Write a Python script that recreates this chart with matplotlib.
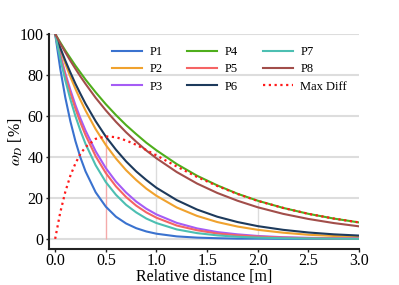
import matplotlib
matplotlib.use("Agg")
import matplotlib.pyplot as plt

plt.rcParams['font.family'] = ['Liberation Serif', 'DejaVu Serif']
plt.rcParams['mathtext.fontset'] = 'stix'

x = [0, 0.05, 0.1, 0.15, 0.2, 0.25, 0.3, 0.4, 0.5, 0.6, 0.7, 0.8, 0.9, 1.0,
     1.2, 1.4, 1.6, 1.8, 2.0, 2.25, 2.5, 2.75, 3.0]

p1 = [100, 83.1, 69.0, 57.4, 47.7, 39.6, 32.9, 22.7, 15.7, 10.8, 7.5, 5.2, 3.6, 2.5,
      1.2, 0.6, 0.3, 0.1, 0.1, 0.0, 0.0, 0.0, 0.0]
p2 = [100, 92.5, 85.5, 79.1, 73.2, 67.7, 62.6, 53.5, 45.8, 39.2, 33.5, 28.7, 24.5, 21.0,
      15.3, 11.2, 8.2, 6.0, 4.4, 3.0, 2.0, 1.4, 0.9]
p3 = [100, 89.9, 80.8, 72.7, 65.3, 58.7, 52.8, 42.7, 34.5, 27.9, 22.6, 18.2, 14.7, 11.9,
      7.8, 5.1, 3.3, 2.2, 1.4, 0.8, 0.5, 0.3, 0.2]
p4 = [100, 95.9, 91.9, 88.2, 84.5, 81.1, 77.7, 71.5, 65.7, 60.4, 55.5, 51.1, 46.9, 43.2,
      36.5, 30.8, 26.1, 22.0, 18.6, 15.1, 12.2, 9.9, 8.0]
p5 = [100, 89.3, 79.7, 71.1, 63.5, 56.7, 50.6, 40.3, 32.1, 25.6, 20.4, 16.2, 12.9, 10.3,
      6.5, 4.2, 2.6, 1.7, 1.1, 0.6, 0.3, 0.2, 0.1]
p6 = [100, 93.3, 87.0, 81.2, 75.7, 70.7, 65.9, 57.4, 49.9, 43.5, 37.8, 32.9, 28.7, 24.9,
      18.9, 14.3, 10.8, 8.2, 6.2, 4.4, 3.1, 2.2, 1.6]
p7 = [100, 88.0, 77.4, 68.1, 59.9, 52.7, 46.3, 35.9, 27.7, 21.5, 16.6, 12.9, 9.9, 7.7,
      4.6, 2.8, 1.7, 1.0, 0.6, 0.3, 0.2, 0.1, 0.0]
p8 = [100, 95.4, 91.1, 86.9, 83.0, 79.2, 75.6, 68.8, 62.7, 57.1, 52.0, 47.4, 43.1, 39.3,
      32.6, 27.0, 22.4, 18.6, 15.4, 12.2, 9.7, 7.7, 6.1]
max_diff = [0, 12.8, 22.9, 30.8, 36.8, 41.5, 44.8, 48.8, 50.0, 49.6, 48.0, 45.9, 43.3, 40.7,
            35.3, 30.2, 25.8, 21.9, 18.5, 15.1, 12.2, 9.9, 8.0]

series = [p1, p2, p3, p4, p5, p6, p7, p8]
labels = ['P1', 'P2', 'P3', 'P4', 'P5', 'P6', 'P7', 'P8']
colors = ['#3a72cf', '#f0a22e', '#a55cf5', '#4fae1c', '#f56464', '#1d3a5c', '#4cbfb2', '#a24e4a']

peak_x = [0.5]
peak_y = [50.0]
ref_x = [1.0, 2.0]
ref_y = [43.2, 18.6]

fig = plt.figure(figsize=(3.99, 2.85), dpi=100)
ax = fig.add_axes([0.123, 0.126, 0.777, 0.755])

ax.vlines(ref_x, 0, ref_y, colors='#dcdcdc', lw=1.0, zorder=1)
ax.vlines(peak_x, 0, peak_y, colors='#f4aaaa', lw=1.0, zorder=1)

for s, lab, c in zip(series, labels, colors):
    ax.plot(x, s, color=c, lw=1.5, label=lab, zorder=3)
ax.plot(x, max_diff, color='#ff1a1a', lw=1.6, ls=(0, (1, 1.6)), label='Max Diff', zorder=4)

ax.set_xlim(-0.06, 3.0)
ax.set_ylim(-5, 100)
ax.set_xticks([0.0, 0.5, 1.0, 1.5, 2.0, 2.5, 3.0])
ax.set_xticklabels(['0.0', '0.5', '1.0', '1.5', '2.0', '2.5', '3.0'])
ax.set_yticks([0, 20, 40, 60, 80, 100])
ax.yaxis.grid(True, color='#dddddd', lw=1.5, zorder=0)
ax.set_axisbelow(True)
for sp in ['top', 'right']:
    ax.spines[sp].set_visible(False)
for sp in ['left', 'bottom']:
    ax.spines[sp].set_linewidth(1.5)
    ax.spines[sp].set_color('#222222')
ax.tick_params(labelsize=11.5, width=1.0, length=2.5, color='#222222', pad=1.5)
ax.tick_params(axis='x', pad=0.5)
ax.set_xlabel('Relative distance [m]', fontsize=11.5)
ax.set_ylabel(r'$\omega_D$ [%]', fontsize=11.5)
ax.xaxis.set_label_coords(0.5, -0.092, transform=ax.transAxes)
ax.yaxis.set_label_coords(-0.078, 0.5, transform=ax.transAxes)

handles, labs = ax.get_legend_handles_labels()
ax.legend(handles, labs, ncol=3, frameon=False, fontsize=9,
          loc='upper right', bbox_to_anchor=(0.998, 0.995),
          handlelength=2.4, handletextpad=0.6, columnspacing=2.0, labelspacing=0.42)

fig.savefig('out.png', dpi=100)
